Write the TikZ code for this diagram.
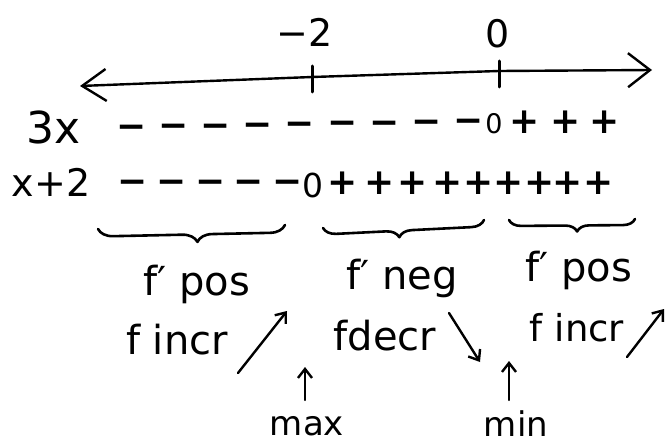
\documentclass[tikz,border=0pt]{standalone}
\usepackage{fontspec}
\setmainfont{DejaVu Sans}
\usetikzlibrary{arrows.meta,decorations.pathreplacing}
\begin{document}
\begin{tikzpicture}[x=1pt,y=-1pt,
  ink/.style={line width=2.6pt, line cap=round, line join=round},
  lbl/.style={inner sep=0pt, font=\fontsize{40}{48}\selectfont},
  big/.style={inner sep=0pt, font=\fontsize{38}{46}\selectfont},
  sgn/.style={inner sep=0pt, font=\bfseries\fontsize{36}{42}\selectfont},
  zro/.style={inner sep=0pt, font=\fontsize{28}{34}\selectfont},
  small/.style={inner sep=0pt, font=\fontsize{34}{40}\selectfont},
  axisarrow/.style={ink, line width=2.4pt,
    {Straight Barb[length=24pt,width=32pt]}-{Straight Barb[length=22pt,width=34pt]}},
  smallarrow/.style={ink, line width=2.4pt, -{Straight Barb[length=9pt,width=14pt]}},
  bracestyle/.style={ink, line width=2.6pt, decorate}
]
\useasboundingbox (0,0) rectangle (667,444);

% number line
\coordinate (axL) at (80,86);
\coordinate (k1) at (312,77);
\coordinate (k2) at (499,71);
\coordinate (axR) at (652,70);
\draw[axisarrow] (axL) -- (k1) -- (k2) -- (axR);
\coordinate (t1a) at (312,66);
\coordinate (t1b) at (312,92);
\coordinate (t2a) at (499,61);
\coordinate (t2b) at (499,87);
\draw[ink, line width=3pt] (t1a) -- (t1b);
\draw[ink, line width=3pt] (t2a) -- (t2b);
\node[big] (mtwo) at (305,32) {−2};
\node[big] (zero) at (498,34) {0};

% row labels
\node[inner sep=0pt, font=\fontsize{44}{52}\selectfont] (l3x) at (54,127) {3x};
\node[big] (lx2) at (51,182) {x+2};

% signs of 3x
\foreach \x [count=\i] in {132,174,216,258,300,343,385,427,469}{
  \node[sgn] (ma\i) at (\x,{132-(\x-120)/60}) {−};
}
\node[zro, font=\fontsize{27}{32}\selectfont] (za) at (494,124) {0};
\foreach \x [count=\i] in {525,566,605}{
  \node[sgn] (pa\i) at (\x,122) {+};
}

% signs of x+2
\foreach \x [count=\i] in {133,172,211,249,288}{
  \node[sgn] (mb\i) at (\x,187) {−};
}
\node[zro, font=\fontsize{33}{38}\selectfont] (zb) at (313,185) {0};
\foreach \x [count=\i] in {343,380,413,448,479,509,540,568,599}{
  \node[sgn] (pb\i) at (\x,183) {+};
}

% braces
\coordinate (b1l) at (98,229);
\coordinate (b1r) at (285,225);
\coordinate (b2l) at (323,228);
\coordinate (b2r) at (484,220);
\coordinate (b3l) at (509,220);
\coordinate (b3r) at (635,219);
\draw[bracestyle, decoration={brace, mirror, amplitude=15pt, aspect=0.53}] (b1l) -- (b1r);
\draw[bracestyle, decoration={brace, mirror, amplitude=13pt, aspect=0.47}] (b2l) -- (b2r);
\draw[bracestyle, decoration={brace, mirror, amplitude=12pt, aspect=0.54}] (b3l) -- (b3r);

% derivative labels
\node[lbl] (fp1) at (197,284) {f′ pos};
\node[lbl] (fn) at (402,278) {f′ neg};
\node[lbl] (fp3) at (579,270) {f′ pos};

% function labels
\node[lbl] (fi1) at (177,340) {f incr};
\node[lbl] (fd) at (385,336) {fdecr};
\node[lbl, font=\fontsize{37}{44}\selectfont] (fi3) at (577,328) {f incr};

% trend arrows
\coordinate (u1s) at (238,373);
\coordinate (u1e) at (287,311);
\coordinate (d1s) at (449,313);
\coordinate (d1e) at (480,362);
\coordinate (u3s) at (627,357);
\coordinate (u3e) at (664,309);
\draw[smallarrow] (u1s) -- (u1e);
\draw[smallarrow] (d1s) -- (d1e);
\draw[smallarrow] (u3s) -- (u3e);

% extrema
\node[small] (mx) at (307,426) {max};
\node[small] (mn) at (516,424) {min};
\coordinate (mxs) at (305,400);
\coordinate (mxe) at (305,367);
\coordinate (mns) at (509,400);
\coordinate (mne) at (509,361);
\draw[smallarrow] (mxs) -- (mxe);
\draw[smallarrow] (mns) -- (mne);
\end{tikzpicture}
\end{document}
